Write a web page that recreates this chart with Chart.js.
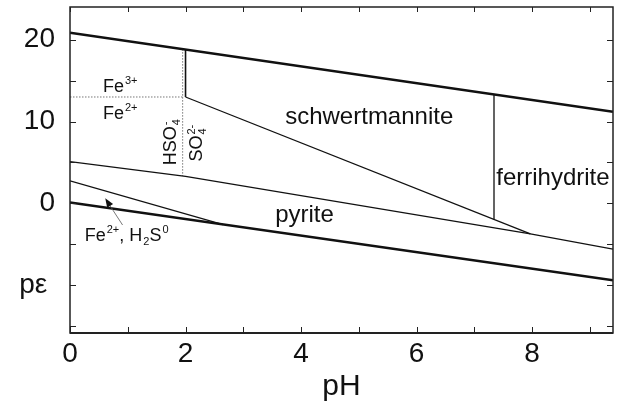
<!DOCTYPE html>
<html>
<head>
<meta charset="utf-8">
<script src="https://cdn.jsdelivr.net/npm/chart.js@4.4.0/dist/chart.umd.min.js"></script>
<style>
  html, body { margin: 0; padding: 0; background: #fff; }
</style>
</head>
<body>
<canvas id="chartPE" width="618" height="405"></canvas>
<script>
// boundary lines, pH values and pe values
const upperWaterPH = [0, 9.4];
const upperWaterPE = [20.85, 11.2];
const lowerWaterPH = [0, 9.4];
const lowerWaterPE = [0.1, -9.4];
const sulfatePyritePH = [0, 2, 7.97, 9.4];
const sulfatePyritePE = [5.1, 3.3, -3.74, -5.6];
const pyriteFe2PH = [0, 2.65];
const pyriteFe2PE = [2.75, -2.6];
const schwertPyritePH = [2, 7.97];
const schwertPyritePE = [13.0, -3.74];
const fe3SchwertPH = [2, 2];
const fe3SchwertPE = [18.8, 13.0];
const schwertFerriPH = [7.34, 7.34];
const schwertFerriPE = [13.3, -1.95];
// dotted aqueous boundaries
const fe3Fe2PH = [0, 1.95];
const fe3Fe2PE = [13.0, 13.0];
const hso4So4PH = [1.95, 1.95];
const hso4So4PE = [18.85, 3.35];

// ticks
const xTicks = [0, 1, 2, 3, 4, 5, 6, 7, 8, 9];
const xTickLabels = ['0', '', '2', '', '4', '', '6', '', '8', ''];
const yTicks = [-15, -10, -5, 0, 5, 10, 15, 20];
const yTickLabels = ['', 'pε ', '', '0', '', '10', '', '20'];

// field labels (^{} superscript, _{} subscript)
const labelNames = ['schwertmannite', 'ferrihydrite', 'pyrite', 'Fe^{3+}', 'Fe^{2+}', 'HSO_{4}^{-}', 'SO_{4}^{2-}', 'Fe^{2+}, H_{2}S^{0}'];
const labelPH = [5.18, 8.36, 4.06, 0.87, 0.87, 1.84, 2.29, 0.98];
const labelPE = [9.67, 2.2, -2.3, 13.66, 10.37, 7.48, 7.35, -4.56];
const arrowPH = [0.91, 0.61];
const arrowPE = [-2.65, 0.61];

const FONT = '"Liberation Sans", Arial, Helvetica, sans-serif';
const labelSize = [24, 24, 24, 18, 18, 18, 18, 18];
const labelRot = [0, 0, 0, 0, 0, -Math.PI / 2, -Math.PI / 2, 0];

function pts(xs, ys) {
    return xs.map((x, i) => ({ x: x, y: ys[i] }));
}

function lineSet(xs, ys, w, dash) {
    return {
        data: pts(xs, ys),
        showLine: true,
        borderColor: dash ? '#777' : '#111',
        borderWidth: w,
        borderDash: dash || [],
        pointRadius: 0,
        fill: false,
        tension: 0
    };
}

function parseRich(str) {
    const re = /([_^])\{([^}]*)\}|([^_^]+)/g;
    let m, out = [];
    while ((m = re.exec(str))) {
        if (m[3]) out.push({ t: m[3], k: 'n' });
        else out.push({ t: m[2], k: m[1] === '^' ? 'sup' : 'sub' });
    }
    return out;
}

function layoutRich(ctx, segs, size) {
    let x = 0, items = [], i = 0;
    while (i < segs.length) {
        const s = segs[i];
        if (s.k === 'n') {
            ctx.font = size + 'px ' + FONT;
            items.push({ t: s.t, x: x, dy: 0, sz: size });
            x += ctx.measureText(s.t).width;
            i++;
        } else {
            const small = Math.round(size * 0.62);
            ctx.font = small + 'px ' + FONT;
            const grp = [s];
            if (segs[i + 1] && segs[i + 1].k !== 'n' && segs[i + 1].k !== s.k) grp.push(segs[i + 1]);
            let w = 0;
            grp.forEach(g => {
                w = Math.max(w, ctx.measureText(g.t).width);
                items.push({ t: g.t, x: x + 1, dy: g.k === 'sup' ? -size * 0.42 : size * 0.22, sz: small });
            });
            x += w + 1;
            i += grp.length;
        }
    }
    return { items: items, width: x };
}

const diagramExtras = {
    id: 'diagramExtras',
    afterDatasetsDraw(chart) {
        const ctx = chart.ctx;
        const xs = chart.scales.x, ys = chart.scales.y;
        const a = chart.chartArea;
        ctx.save();
        ctx.fillStyle = '#111';

        // labels
        labelNames.forEach((name, i) => {
            const lay = layoutRich(ctx, parseRich(name), labelSize[i]);
            ctx.save();
            ctx.translate(xs.getPixelForValue(labelPH[i]), ys.getPixelForValue(labelPE[i]));
            ctx.rotate(labelRot[i]);
            ctx.textBaseline = 'alphabetic';
            ctx.textAlign = 'left';
            lay.items.forEach(it => {
                ctx.font = it.sz + 'px ' + FONT;
                ctx.fillText(it.t, it.x - lay.width / 2, it.dy);
            });
            ctx.restore();
        });

        // arrow
        const x0 = xs.getPixelForValue(arrowPH[0]), y0 = ys.getPixelForValue(arrowPE[0]);
        const x1 = xs.getPixelForValue(arrowPH[1]), y1 = ys.getPixelForValue(arrowPE[1]);
        const ang = Math.atan2(y1 - y0, x1 - x0);
        ctx.strokeStyle = '#555';
        ctx.lineWidth = 0.8;
        ctx.beginPath();
        ctx.moveTo(x0, y0);
        ctx.lineTo(x1 - 6 * Math.cos(ang), y1 - 6 * Math.sin(ang));
        ctx.stroke();
        ctx.beginPath();
        ctx.moveTo(x1, y1);
        ctx.lineTo(x1 - 9 * Math.cos(ang) + 3.5 * Math.sin(ang), y1 - 9 * Math.sin(ang) - 3.5 * Math.cos(ang));
        ctx.lineTo(x1 - 9 * Math.cos(ang) - 3.5 * Math.sin(ang), y1 - 9 * Math.sin(ang) + 3.5 * Math.cos(ang));
        ctx.closePath();
        ctx.fill();

        // frame
        ctx.strokeStyle = '#222';
        ctx.lineWidth = 1.5;
        ctx.strokeRect(a.left, a.top, a.right - a.left, a.bottom - a.top);
        ctx.lineWidth = 2;
        ctx.beginPath();
        ctx.moveTo(a.left, a.bottom);
        ctx.lineTo(a.right, a.bottom);
        ctx.stroke();

        // inward tick marks on all four sides
        ctx.lineWidth = 1;
        ctx.beginPath();
        xTicks.forEach(v => {
            const px = Math.round(xs.getPixelForValue(v)) + 0.5;
            ctx.moveTo(px, a.bottom); ctx.lineTo(px, a.bottom - 6);
            ctx.moveTo(px, a.top); ctx.lineTo(px, a.top + 5);
        });
        yTicks.forEach(v => {
            const py = Math.round(ys.getPixelForValue(v)) + 0.5;
            ctx.moveTo(a.left, py); ctx.lineTo(a.left + 6, py);
            ctx.moveTo(a.right, py); ctx.lineTo(a.right - 6, py);
        });
        ctx.stroke();
        ctx.restore();
    }
};

const ctxPE = document.getElementById('chartPE');
new Chart(ctxPE, {
    type: 'scatter',
    data: {
        datasets: [
            lineSet(upperWaterPH, upperWaterPE, 2.5),
            lineSet(lowerWaterPH, lowerWaterPE, 2.5),
            lineSet(sulfatePyritePH, sulfatePyritePE, 1.3),
            lineSet(pyriteFe2PH, pyriteFe2PE, 1.3),
            lineSet(schwertPyritePH, schwertPyritePE, 1.3),
            lineSet(fe3SchwertPH, fe3SchwertPE, 1.6),
            lineSet(schwertFerriPH, schwertFerriPE, 1.3),
            lineSet(fe3Fe2PH, fe3Fe2PE, 1, [1.5, 1.5]),
            lineSet(hso4So4PH, hso4So4PE, 1, [1.5, 1.5])
        ]
    },
    options: {
        responsive: false,
        animation: false,
        devicePixelRatio: 1,
        layout: {
            autoPadding: false,
            padding: { top: 7, right: 5, left: 0, bottom: 0 }
        },
        plugins: {
            legend: { display: false },
            tooltip: { enabled: false }
        },
        scales: {
            x: {
                type: 'linear',
                min: 0,
                max: 9.4,
                afterBuildTicks: function (s) {
                    s.ticks = xTicks.map(v => ({ value: v }));
                },
                afterFit: function (s) {
                    s.height = 72;
                    s.paddingLeft = 0;
                    s.paddingRight = 0;
                },
                grid: { display: false, drawTicks: false },
                border: { display: false },
                ticks: {
                    autoSkip: false,
                    maxRotation: 0,
                    padding: 4,
                    color: '#111',
                    font: { size: 28, family: FONT },
                    callback: function (v) {
                        return xTickLabels[xTicks.indexOf(v)];
                    }
                },
                title: {
                    display: true,
                    text: 'pH',
                    color: '#111',
                    font: { size: 30, family: FONT },
                    padding: { top: 0, bottom: 0 }
                }
            },
            y: {
                type: 'linear',
                min: -15.85,
                max: 24,
                afterBuildTicks: function (s) {
                    s.ticks = yTicks.map(v => ({ value: v }));
                },
                afterFit: function (s) {
                    s.width = 70;
                    s.paddingTop = 0;
                    s.paddingBottom = 0;
                },
                grid: { display: false, drawTicks: false },
                border: { display: false },
                ticks: {
                    autoSkip: false,
                    padding: 15,
                    color: '#111',
                    font: { size: 28, family: FONT },
                    callback: function (v) {
                        return yTickLabels[yTicks.indexOf(v)];
                    }
                }
            }
        }
    },
    plugins: [diagramExtras]
});
</script>
</body>
</html>
